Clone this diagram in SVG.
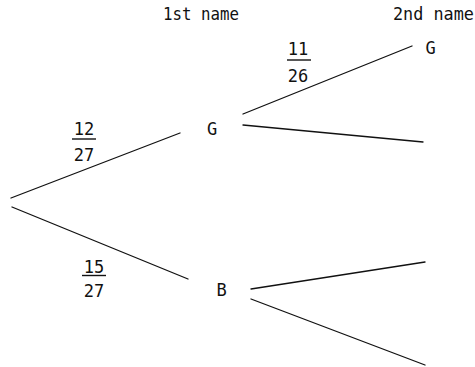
<svg xmlns="http://www.w3.org/2000/svg" width="475" height="367" viewBox="0 0 475 367">
  <style>
    text { font-family: "DejaVu Sans Mono", "Liberation Mono", monospace; font-size: 17px; fill: #111; }
    .mid { text-anchor: middle; }
    .branch { stroke: #111; stroke-width: 1.3; fill: none; stroke-linecap: round; }
    .bar { stroke: #111; stroke-width: 1.4; }
  </style>
  <rect width="475" height="367" fill="#fff"/>

  <!-- column headings -->
  <text id="head1" x="163" y="20" textLength="76" lengthAdjust="spacingAndGlyphs">1st name</text>
  <text id="head2" x="393" y="20" textLength="81" lengthAdjust="spacingAndGlyphs">2nd name</text>

  <!-- branches -->
  <g id="connectors">
    <line class="branch" x1="11" y1="198" x2="180" y2="133"/>
    <line class="branch" x1="12" y1="207" x2="188" y2="279"/>
    <line class="branch" x1="243" y1="114" x2="412" y2="46"/>
    <line class="branch" x1="243" y1="125" x2="423" y2="142"/>
    <line class="branch" x1="251" y1="289" x2="425" y2="262"/>
    <line class="branch" x1="251" y1="299" x2="425" y2="365"/>
  </g>

  <!-- outcome nodes -->
  <g id="node-G1"><text x="212" y="135" class="mid">G</text></g>
  <g id="node-B1"><text x="221.5" y="296" class="mid">B</text></g>
  <g id="node-G2"><text x="430.5" y="54" class="mid">G</text></g>

  <!-- probabilities -->
  <g id="prob-12-27">
    <text x="84" y="135" class="mid">12</text>
    <line class="bar" x1="72" y1="139" x2="96" y2="139"/>
    <text x="84" y="161" class="mid">27</text>
  </g>
  <g id="prob-15-27">
    <text x="94" y="273" class="mid">15</text>
    <line class="bar" x1="82" y1="275.5" x2="106" y2="275.5"/>
    <text x="94" y="297" class="mid">27</text>
  </g>
  <g id="prob-11-26">
    <text x="298" y="55" class="mid">11</text>
    <line class="bar" x1="287" y1="60" x2="311" y2="60"/>
    <text x="298" y="82" class="mid">26</text>
  </g>
</svg>
